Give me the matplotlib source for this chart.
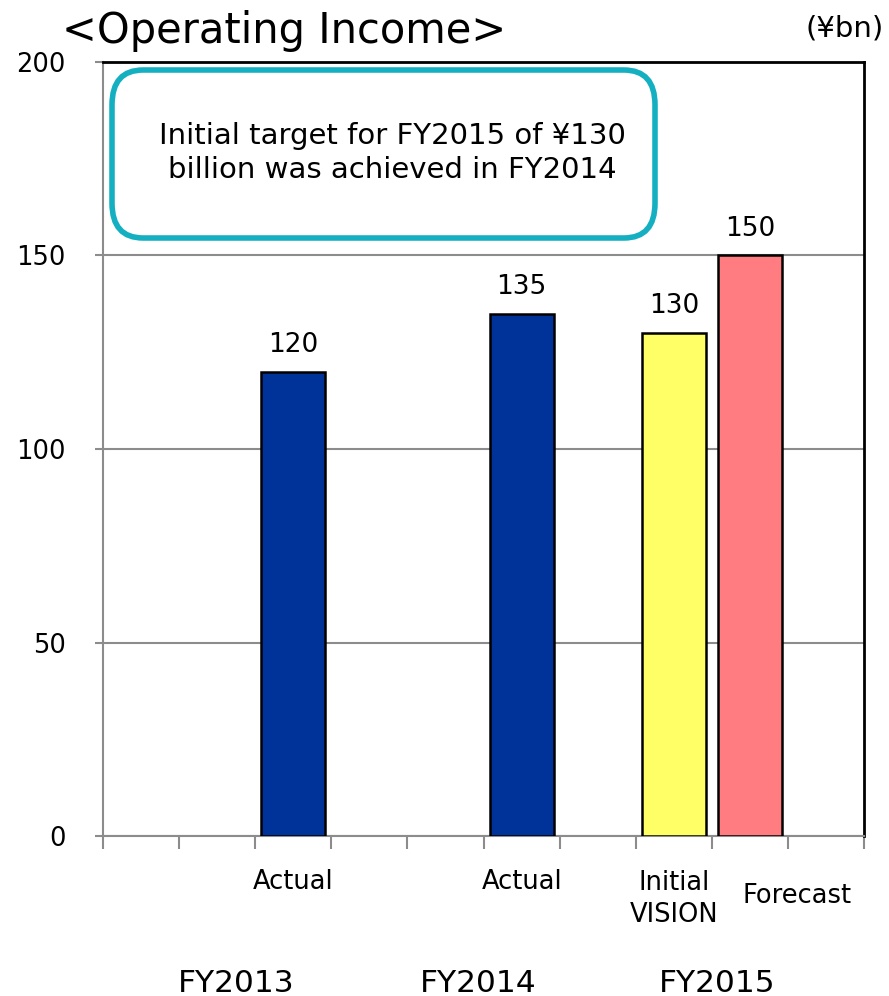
import matplotlib.pyplot as plt
from matplotlib.patches import FancyBboxPatch
from matplotlib.transforms import blended_transform_factory
import numpy as np

# Operating income, billions of yen
slots = 10
bar_slots = [2, 5, 7, 8]
bar_values = [120, 135, 130, 150]
bar_colors = ["#003399", "#003399", "#FFFF66", "#FF7C80"]
bar_labels = ["Actual", "Actual", "Initial\nVISION", "Forecast"]
years = ["FY2013", "FY2014", "FY2015"]
year_pos = [1.25, 4.43, 7.57]

plt.rcParams["font.family"] = ["DejaVu Sans"]

fig = plt.figure(figsize=(8.89, 9.96), dpi=100)
ax = fig.add_axes([0.1159, 0.1606, 0.8561, 0.7772])

bars = ax.bar(bar_slots, bar_values, width=0.84, color=bar_colors,
              edgecolor="black", linewidth=1.8, zorder=3)
for b, v in zip(bars, bar_values):
    ax.annotate(str(v), (b.get_x() + b.get_width() / 2, v),
                xytext=(0, 10), textcoords="offset points",
                ha="center", va="bottom", fontsize=19)

ax.set_xlim(-0.5, slots - 0.5)
ax.set_ylim(0, 200)
ax.set_yticks([0, 50, 100, 150, 200])
ax.yaxis.grid(True, color="#8c8c8c", linewidth=1.5, zorder=0)
ax.tick_params(axis="y", labelsize=18.5, direction="out", length=6,
               width=1.5, color="#8c8c8c", pad=21)

ax.set_xticks(np.arange(-0.5, slots, 1))
ax.set_xticklabels([])
ax.tick_params(axis="x", direction="out", length=9, width=1.5, color="#8c8c8c")

ax.spines["left"].set_color("#8c8c8c")
ax.spines["bottom"].set_color("#8c8c8c")
ax.spines["left"].set_linewidth(1.5)
ax.spines["bottom"].set_linewidth(1.5)
ax.spines["top"].set_linewidth(2)
ax.spines["right"].set_linewidth(2)

# category labels under each bar ("Forecast" sits a little to the right)
trans = blended_transform_factory(ax.transData, fig.transFigure)
for x, lab in zip(bar_slots, bar_labels):
    if lab == "Forecast":
        ypix, dx = 896, 34
    elif "\n" in lab:
        ypix, dx = 899, 0
    else:
        ypix, dx = 882, 0
    ax.annotate(lab, (x, 1 - ypix / 996), xycoords=trans,
                xytext=(dx, 0), textcoords="offset points",
                ha="center", va="center", fontsize=18.5, linespacing=1.3)
for x, y in zip(year_pos, years):
    ax.text(x, 1 - 983 / 996, y, transform=trans, ha="center",
            va="center", fontsize=22.5)

# callout box
box = FancyBboxPatch((112 / 889, 1 - 238 / 996), 543 / 889, 168 / 996,
                     boxstyle="round,pad=0,rounding_size=0.035",
                     transform=fig.transFigure, facecolor="white",
                     edgecolor="#14AFC0", linewidth=4, zorder=5)
fig.patches.append(box)
fig.text(392 / 889, 1 - 153 / 996,
         "Initial target for FY2015 of ¥130\nbillion was achieved in FY2014",
         ha="center", va="center", fontsize=21, zorder=6, linespacing=1.3)

fig.text(62 / 889, 1 - 31 / 996, "<Operating Income>", ha="left",
         va="center", fontsize=30)
fig.text(884 / 889, 1 - 28 / 996, "(¥bn)", ha="right", va="center",
         fontsize=21)

fig.savefig("out.png", dpi=100)
